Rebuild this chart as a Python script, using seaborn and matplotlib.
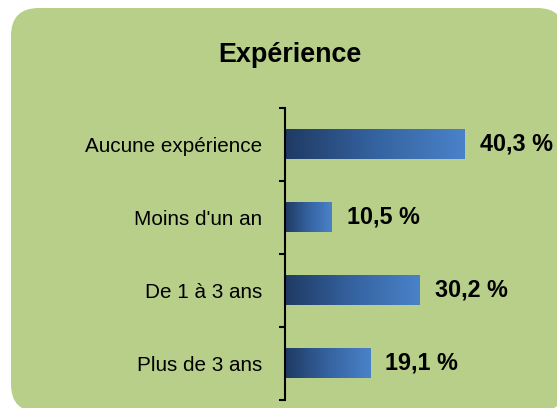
import matplotlib
matplotlib.use("Agg")
import matplotlib.pyplot as plt
import seaborn as sns
import numpy as np
import pandas as pd
from matplotlib.patches import FancyBboxPatch
from matplotlib.colors import LinearSegmentedColormap

categories = ["Aucune expérience", "Moins d'un an", "De 1 à 3 ans", "Plus de 3 ans"]
values = [40.3, 10.5, 30.2, 19.1]
value_labels = ["40,3 %", "10,5 %", "30,2 %", "19,1 %"]
title = "Expérience"

sns.set_theme(style="white")
plt.rcParams['font.family'] = ['Liberation Sans', 'DejaVu Sans']

W, H = 557, 408
fig = plt.figure(figsize=(W / 100, H / 100), dpi=100)
fig.patch.set_facecolor("white")

# green rounded panel
panel = FancyBboxPatch((11 / W, (H - 412) / H), (565 - 11) / W, (412 - 8) / H,
                       boxstyle="round,pad=0,rounding_size=0.05",
                       transform=fig.transFigure, facecolor="#b8cf8a",
                       edgecolor="none", mutation_aspect=W / H, zorder=-5)
fig.patches.append(panel)

ax = fig.add_axes([285 / W, (H - 400) / H, 260 / W, (400 - 107.5) / H])
ax.set_facecolor("none")
ax.set_zorder(2)

df = pd.DataFrame({"cat": categories, "val": values})
sns.barplot(data=df, x="val", y="cat", orient="h", width=0.41, ax=ax,
            color="#3a6aa8", saturation=1)

cmap = LinearSegmentedColormap.from_list("g", ["#1f3a63", "#3563a0", "#4a82c9"])
grad = np.linspace(0, 1, 256).reshape(1, -1)
for p in ax.patches:
    x0, y0 = p.get_x(), p.get_y()
    w, h = p.get_width(), p.get_height()
    p.set_visible(False)
    ax.imshow(grad, extent=(x0, x0 + w, y0 + h, y0), cmap=cmap,
              aspect="auto", zorder=2, interpolation="bicubic")

ax.set_xlim(0, 58.4)
ax.set_ylim(3.5, -0.5)

for i, (v, lab) in enumerate(zip(values, value_labels)):
    ax.annotate(lab, xy=(v, i), xytext=(11, 0), textcoords="offset points",
                ha="left", va="center", fontsize=16.8, fontweight="bold",
                color="black")

ax.set_xlabel("")
ax.set_ylabel("")
ax.set_xticks([])
ax.set_yticks(range(len(categories)))
ax.set_yticklabels(categories, fontsize=14.9, color="black")
ax.set_yticks([-0.5, 0.5, 1.5, 2.5, 3.5], minor=True)
ax.tick_params(axis="y", which="major", length=0, pad=16.5)
ax.tick_params(axis="y", which="minor", length=4.5, width=1.5, color="black",
               direction="out", left=True)
for s in ["top", "right", "bottom"]:
    ax.spines[s].set_visible(False)
ax.spines["left"].set_color("black")
ax.spines["left"].set_linewidth(1.5)

fig.text(290 / W, 1 - 55 / H, title, ha="center", va="center",
         fontsize=19.4, fontweight="bold", color="black")

fig.savefig("out.png", dpi=100)
